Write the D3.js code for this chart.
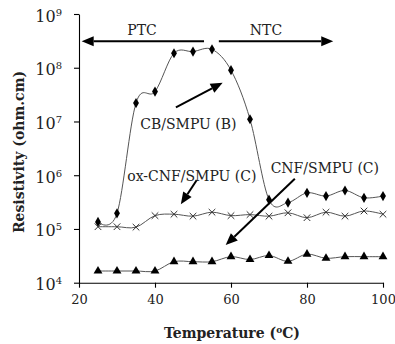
<!DOCTYPE html>
<html><head><meta charset="utf-8">
<script src="https://cdn.jsdelivr.net/npm/d3@7"></script>
<style>body{margin:0;background:#fff}svg{display:block}</style>
</head><body>
<script>
const temps = [25,30,35,40,45,50,55,60,65,70,75,80,85,90,95,100];
const cbSmpu = [1.35e5,1.95e5,2.2e7,3.6e7,1.86e8,2.0e8,2.2e8,9.0e7,1.1e7,3.5e5,3.1e5,4.7e5,4.1e5,5.2e5,3.8e5,4.1e5];
const oxCnfSmpu = [1.1e5,1.1e5,1.08e5,1.77e5,1.88e5,1.73e5,2.05e5,1.77e5,1.85e5,1.73e5,2.0e5,1.62e5,2.05e5,1.73e5,2.16e5,1.88e5];
const cnfSmpu = [1.65e4,1.65e4,1.65e4,1.65e4,2.46e4,2.46e4,2.46e4,3.05e4,2.7e4,3.2e4,2.5e4,3.4e4,2.85e4,3.05e4,3.05e4,3.05e4];
const xTicks = [20,40,60,80,100];
const yTickExps = [4,5,6,7,8,9];

const W=395,H=344;
const FONT='"DejaVu Serif", serif';
const svg=d3.select('body').append('svg').attr('width',W).attr('height',H);
const x=d3.scaleLinear().domain([20,100]).range([79,383]);
const y=d3.scaleLog().domain([1e4,1e9]).range([282.7,14]);

// axes
const xAxis=d3.axisBottom(x).tickValues(xTicks).tickSize(5).tickSizeOuter(0).tickFormat(d3.format('d'));
const gx=svg.append('g').attr('transform','translate(0,282.7)').call(xAxis);
gx.selectAll('text').attr('font-family',FONT).attr('font-size',13).attr('fill','#222').attr('dy','1.05em');
const yAxis=d3.axisLeft(y).tickValues(yTickExps.map(e=>Math.pow(10,e))).tickSize(5).tickSizeOuter(0).tickFormat('');
const gy=svg.append('g').attr('transform','translate(79,0)').call(yAxis);
svg.selectAll('.domain,.tick line').attr('stroke','#000').attr('stroke-width',1.1);
gy.selectAll('.tick').each(function(d){
  const e=Math.round(Math.log10(d));
  const t=d3.select(this).append('text').attr('x',-17).attr('y',7).attr('text-anchor','end')
    .attr('font-family',FONT).attr('font-size',16).attr('fill','#222');
  t.append('tspan').text('10');
  t.append('tspan').attr('font-size',10).attr('dy',-6).text(e);
});

// axis titles
svg.append('text').attr('transform','translate(24,152) rotate(-90)').attr('text-anchor','middle')
  .attr('font-family',FONT).attr('font-weight','bold').attr('font-size',14).attr('fill','#222')
  .text('Resistivity (ohm.cm)');
const xt=svg.append('text').attr('x',232).attr('y',338).attr('text-anchor','middle')
  .attr('font-family',FONT).attr('font-weight','bold').attr('font-size',14).attr('fill','#222');
xt.append('tspan').text('Temperature (');
xt.append('tspan').attr('font-size',9).attr('dy',-5).text('o');
xt.append('tspan').attr('dy',5).text('C)');

// series
const line=d3.line().x((d,i)=>x(temps[i])).y(d=>y(d)).curve(d3.curveCatmullRom.alpha(0));
[cbSmpu,oxCnfSmpu,cnfSmpu].forEach(s=>{
  svg.append('path').attr('d',line(s)).attr('fill','none').attr('stroke','#555').attr('stroke-width',1);
});
// markers
svg.append('g').selectAll('path').data(cbSmpu).join('path')
  .attr('transform',(d,i)=>`translate(${x(temps[i])},${y(d)})`)
  .attr('d',d3.symbol(d3.symbolDiamond,30)()).attr('fill','#000');
svg.append('g').selectAll('path').data(oxCnfSmpu).join('path')
  .attr('transform',(d,i)=>`translate(${x(temps[i])},${y(d)})`)
  .attr('d','M-3.3,-3.3L3.3,3.3M-3.3,3.3L3.3,-3.3').attr('stroke','#333').attr('stroke-width',1).attr('fill','none');
svg.append('g').selectAll('path').data(cnfSmpu).join('path')
  .attr('transform',(d,i)=>`translate(${x(temps[i])},${y(d)})`)
  .attr('d',d3.symbol(d3.symbolTriangle,34)()).attr('fill','#000');

// annotation arrows (data coordinates: [temp, log10 value])
function arrow(from,to){
  const x1=x(from[0]),y1=y(Math.pow(10,from[1])),x2=x(to[0]),y2=y(Math.pow(10,to[1]));
  const ang=Math.atan2(y2-y1,x2-x1),L=12,Wd=5;
  const bx=x2-L*Math.cos(ang),by=y2-L*Math.sin(ang);
  svg.append('line').attr('x1',x1).attr('y1',y1).attr('x2',bx).attr('y2',by)
    .attr('stroke','#000').attr('stroke-width',2);
  const px=-Math.sin(ang)*Wd,py=Math.cos(ang)*Wd;
  svg.append('path').attr('d',`M${x2},${y2}L${bx+px},${by+py}L${bx-px},${by-py}Z`).attr('fill','#000');
}
arrow([52.9,8.492],[20.7,8.492]);
arrow([56.8,8.492],[86.9,8.492]);
arrow([45.5,7.264],[57.8,7.722]);
arrow([76.8,5.935],[58.6,4.70]);
arrow([51.0,5.911],[46.8,5.459]);

function label(txt,tx,lg){
  svg.append('text').attr('x',x(tx)).attr('y',y(Math.pow(10,lg))).attr('text-anchor','middle')
    .attr('font-family',FONT).attr('font-size',14).attr('fill','#222').text(txt);
}
label('PTC',36.6,8.61);
label('NTC',69.2,8.61);
label('CB/SMPU (B)',48.8,6.86);
label('ox-CNF/SMPU (C)',49.7,5.89);
label('CNF/SMPU (C)',84.7,6.04);
</script>
</body></html>
